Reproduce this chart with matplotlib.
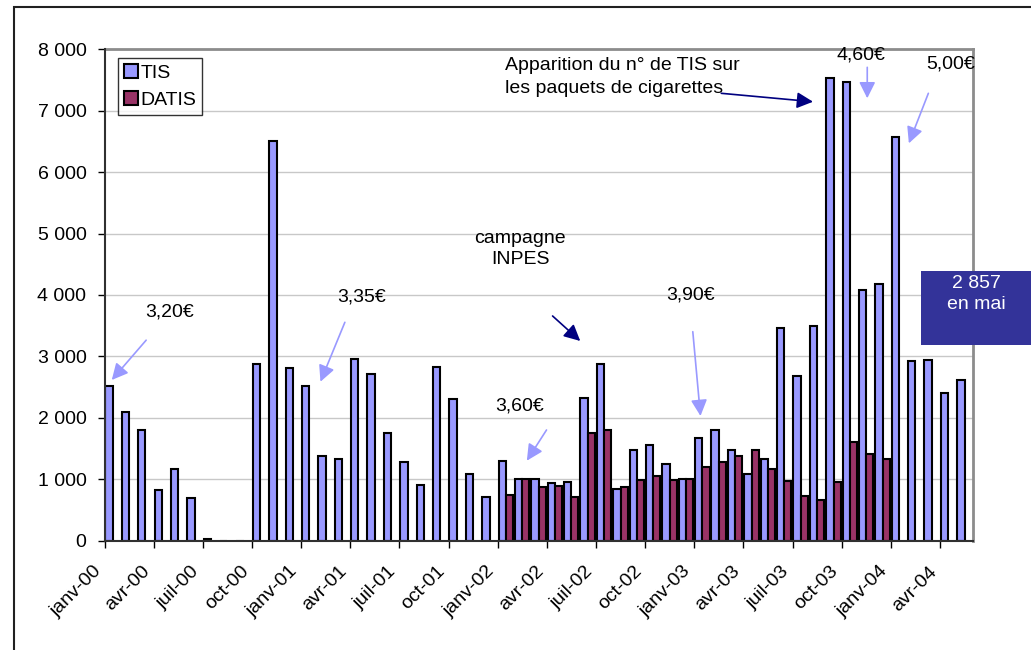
import numpy as np
import matplotlib.pyplot as plt
from matplotlib.patches import Patch, Rectangle
from matplotlib.ticker import FuncFormatter

plt.rcParams['font.family'] = ['Liberation Sans', 'DejaVu Sans']

# Appels mensuels, janv-00 -> mai-04 (un mois par barre)
tis = [2520, 2100, 1805, 826, 1173, 688, 20, 0, 0,
       2880, 6514, 2808, 2517, 1377, 1322, 2963, 2715, 1751,
       1278, 909, 2828, 2313, 1085, 716, 1300, 1008, 1008,
       936, 953, 2329, 2874, 837, 1470, 1553, 1250, 1008,
       1668, 1800, 1470, 1090, 1333, 3458, 2682, 3491, 7533,
       7461, 4086, 4174, 6564, 2918, 2940, 2406, 2616]
# DATIS : janv-02 -> déc-03 seulement
datis_start = 24
datis = [743, 1008, 881, 898, 716, 1746, 1800, 881, 991, 1046, 991, 1008,
         1200, 1278, 1377, 1470, 1167, 975, 727, 661, 953, 1608, 1404, 1322]
tick_labels = ['janv-00', 'avr-00', 'juil-00', 'oct-00',
               'janv-01', 'avr-01', 'juil-01', 'oct-01',
               'janv-02', 'avr-02', 'juil-02', 'oct-02',
               'janv-03', 'avr-03', 'juil-03', 'oct-03',
               'janv-04', 'avr-04']

c_tis = '#9999ff'
c_datis = '#993366'
navy = '#000080'
fs = 14

fig = plt.figure(figsize=(10.31, 6.5), dpi=100)
ax = fig.add_axes([0.1014, 0.1682, 0.8421, 0.756])

x = np.arange(len(tis))
xd = np.arange(len(datis)) + datis_start
ax.bar(x + 0.05, tis, width=0.45, align='edge', color=c_tis,
       edgecolor='black', linewidth=1.5, zorder=3)
ax.bar(xd + 0.5, datis, width=0.43, align='edge', color=c_datis,
       edgecolor='black', linewidth=1.5, zorder=3)

ax.set_xlim(0, len(tis))
ax.set_ylim(0, 8000)
ax.set_yticks(np.arange(0, 8001, 1000))
ax.yaxis.set_major_formatter(FuncFormatter(lambda v, p: f'{int(v):,}'.replace(',', ' ')))
ax.set_xticks(np.arange(0, 3 * len(tick_labels), 3))
ax.set_xticklabels(tick_labels, rotation=45, ha='right')
ax.tick_params(axis='y', length=5, width=1, pad=8, labelsize=fs)
ax.tick_params(axis='x', length=5, width=1, pad=11, labelsize=fs)
ax.grid(axis='y', color='#c8c8c8', linewidth=1, zorder=0)
ax.set_axisbelow(True)
for s in ['top', 'right']:
    ax.spines[s].set_color('#8c8c8c')
    ax.spines[s].set_linewidth(2)
for s in ['left', 'bottom']:
    ax.spines[s].set_color('#303030')
    ax.spines[s].set_linewidth(1.5)
    ax.spines[s].set_zorder(4)

handles = [Patch(facecolor=c_tis, edgecolor='black', linewidth=1.5, label='TIS'),
           Patch(facecolor=c_datis, edgecolor='black', linewidth=1.5, label='DATIS')]
leg = ax.legend(handles=handles, loc='upper left', bbox_to_anchor=(0.0159, 0.982),
                fontsize=fs, frameon=True, fancybox=False, edgecolor='black',
                handlelength=0.7, handleheight=0.7, handletextpad=0.15,
                labelspacing=0.5, borderpad=0.3, borderaxespad=0)
leg.get_frame().set_linewidth(1)

light = dict(arrowstyle='-|>,head_length=0.7,head_width=0.35', color=c_tis,
             lw=1.2, shrinkA=0, shrinkB=0, mutation_scale=14)
dark = dict(arrowstyle='-|>,head_length=0.7,head_width=0.35', color=navy,
            lw=1.2, shrinkA=0, shrinkB=0, mutation_scale=14)

ax.text(4.0, 3723, '3,20€', fontsize=fs, ha='center', va='center')
ax.annotate('', xy=(0.44, 2616), xytext=(2.54, 3264), arrowprops=light)
ax.text(15.69, 3967, '3,35€', fontsize=fs, ha='center', va='center')
ax.annotate('', xy=(13.18, 2588), xytext=(14.67, 3555), arrowprops=light)
ax.text(25.37, 4748, 'campagne\nINPES', fontsize=fs, ha='center', va='center',
        linespacing=1.38)
ax.annotate('', xy=(29.04, 3251), xytext=(27.35, 3658), arrowprops=dark)
ax.text(25.31, 2193, '3,60€', fontsize=fs, ha='center', va='center')
ax.annotate('', xy=(25.78, 1302), xytext=(26.98, 1802), arrowprops=light)
ax.text(35.77, 4000, '3,90€', fontsize=fs, ha='center', va='center')
ax.annotate('', xy=(36.38, 2030), xytext=(35.91, 3402), arrowprops=light)
ax.text(24.43, 7549, 'Apparition du n° de TIS sur\nles paquets de cigarettes',
        fontsize=fs, ha='left', va='center', linespacing=1.4)
ax.annotate('', xy=(43.25, 7146), xytext=(37.65, 7283), arrowprops=dark)
ax.text(46.15, 7907, '4,60€', fontsize=fs, ha='center', va='center')
ax.annotate('', xy=(46.56, 7202), xytext=(46.56, 7706), arrowprops=light)
ax.text(51.67, 7755, '5,00€', fontsize=fs, ha='center', va='center')
ax.annotate('', xy=(49.1, 6469), xytext=(50.29, 7283), arrowprops=light)

# encadré "2 857 en mai" qui déborde à droite
fig.patches.append(Rectangle((921 / 1031, 1 - 345 / 650), 0.2, 74 / 650,
                             transform=fig.transFigure, facecolor='#333399',
                             edgecolor='none', zorder=5))
fig.text(976 / 1031, 1 - 294 / 650, '2 857\nen mai', color='white', fontsize=fs,
         ha='center', va='center', linespacing=1.38, zorder=6)

# cadre de la zone graphique
fig.patches.append(Rectangle((14 / 1031, -0.1), 1.2, 1.1 - 7 / 650,
                             transform=fig.transFigure, fill=False,
                             edgecolor='#202020', linewidth=1.5))

fig.savefig('out.png', dpi=100)
